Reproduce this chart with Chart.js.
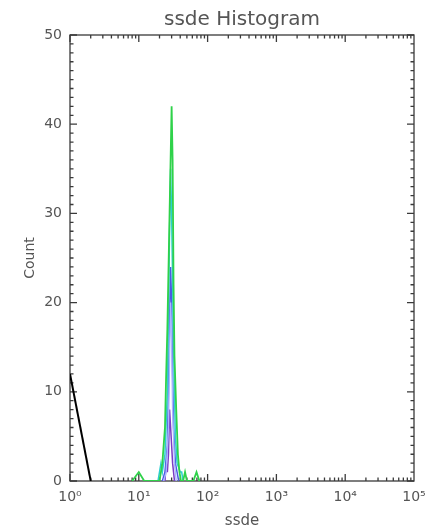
<!DOCTYPE html>
<html>
<head>
<meta charset="utf-8">
<script src="https://cdn.jsdelivr.net/npm/chart.js@4/dist/chart.umd.min.js"></script>
<style>
  html, body { margin: 0; padding: 0; background: #ffffff; }
  #wrap { width: 437px; height: 530px; position: relative; }
</style>
</head>
<body>
<div id="wrap"><canvas id="c"></canvas></div>
<script>
// ---- data ----
const titleText = 'ssde Histogram';
const xTitle = 'ssde';
const yTitle = 'Count';
const xTickValues = [1, 10, 100, 1000, 10000, 100000];
const yTickValues = [0, 10, 20, 30, 40, 50];

const blackX = [1, 2];
const blackY = [12, 0];

const greenX = [8, 10, 12, 20, 22, 24, 25, 26, 28, 30, 31, 32, 33, 35, 37, 39, 41, 44, 47, 50, 62, 69, 76];
const greenY = [0, 1, 0, 0, 2, 6, 12, 17, 30, 42, 36, 22, 14, 8, 3, 1, 0, 0, 1, 0, 0, 1, 0];

const cyanX = [19, 21, 22, 24, 26, 28, 29, 30, 32, 34, 36, 40, 42, 44];
const cyanY = [0, 2, 1, 3, 10, 28, 35, 30, 15, 5, 2, 1, 1, 0];

const lavenderX = [23, 25, 27, 28, 29, 30, 31, 33, 35];
const lavenderY = [0, 1, 6, 14, 20, 16, 8, 2, 0];

const blueX = [22, 24, 26, 27, 28, 29, 30, 31, 32, 34, 36, 38];
const blueY = [0, 1, 4, 10, 18, 24, 20, 12, 6, 2, 1, 0];

const purpleX = [24, 25, 26, 27, 28, 29, 30, 31, 32, 33];
const purpleY = [0, 2, 1, 3, 8, 6, 4, 2, 1, 0];

const seriesColors = {
  black: '#000000',
  green: '#2fd24a',
  cyan: '#2ccfd0',
  lavender: '#a9b6ff',
  blue: '#4b5ae2',
  purple: '#7a3cc4'
};

function pts(xs, ys) { return xs.map((x, i) => ({ x: x, y: ys[i] })); }

function ds(label, xs, ys, color, w) {
  return {
    label: label,
    data: pts(xs, ys),
    borderColor: color,
    backgroundColor: color,
    borderWidth: w,
    pointRadius: 0,
    tension: 0,
    fill: false
  };
}

const sup = ['\u2070', '\u00B9', '\u00B2', '\u00B3', '\u2074', '\u2075'];
const textColor = '#555555';
const frameColor = '#3a3a3a';

const framePlugin = {
  id: 'frame',
  beforeDatasetsDraw(chart) {
    const { ctx, chartArea: a, scales } = chart;
    const xs = scales.x, ys = scales.y;
    ctx.save();
    ctx.strokeStyle = frameColor;
    ctx.lineWidth = 1.3;
    ctx.strokeRect(a.left, a.top, a.right - a.left, a.bottom - a.top);
    ctx.beginPath();
    // x ticks (log, minor 2..9)
    for (let d = 0; d < 5; d++) {
      for (let m = 1; m <= 9; m++) {
        const v = m * Math.pow(10, d);
        const px = xs.getPixelForValue(v);
        const len = m === 1 ? 7 : 3.5;
        ctx.moveTo(px, a.bottom); ctx.lineTo(px, a.bottom - len);
        ctx.moveTo(px, a.top); ctx.lineTo(px, a.top + len);
      }
    }
    // y ticks
    for (let v = 0; v <= 50; v += 1) {
      const py = ys.getPixelForValue(v);
      const len = v % 10 === 0 ? 7 : 3.5;
      ctx.moveTo(a.left, py); ctx.lineTo(a.left + len, py);
      ctx.moveTo(a.right, py); ctx.lineTo(a.right - len, py);
    }
    ctx.stroke();
    ctx.restore();
  }
};

new Chart(document.getElementById('c'), {
  type: 'line',
  data: {
    datasets: [
      ds('black', blackX, blackY, seriesColors.black, 2),
      ds('green', greenX, greenY, seriesColors.green, 1.8),
      ds('cyan', cyanX, cyanY, seriesColors.cyan, 1.5),
      ds('lavender', lavenderX, lavenderY, seriesColors.lavender, 1.4),
      ds('blue', blueX, blueY, seriesColors.blue, 1.5),
      ds('purple', purpleX, purpleY, seriesColors.purple, 1.5)
    ]
  },
  options: {
    responsive: true,
    maintainAspectRatio: false,
    animation: false,
    devicePixelRatio: 1,
    layout: { padding: { top: 0, right: 23, bottom: 0, left: 0 } },
    plugins: {
      legend: { display: false },
      tooltip: { enabled: false },
      title: {
        display: true,
        text: titleText,
        fullSize: false,
        color: textColor,
        font: { family: 'DejaVu Sans', size: 20, weight: 'normal' },
        padding: { top: 8, bottom: 3 }
      }
    },
    scales: {
      x: {
        type: 'logarithmic',
        min: 1,
        max: 100000,
        afterFit(scale) { scale.height = 49; },
        afterBuildTicks(scale) { scale.ticks = xTickValues.map(v => ({ value: v })); },
        grid: { display: false, drawTicks: false },
        border: { display: false },
        ticks: {
          autoSkip: false,
          maxRotation: 0,
          padding: 8,
          color: textColor,
          font: { family: 'DejaVu Sans', size: 14 },
          callback: (v) => '10' + sup[Math.round(Math.log10(v))]
        },
        title: {
          display: true,
          text: xTitle,
          color: textColor,
          font: { family: 'DejaVu Sans', size: 15 },
          padding: { top: 0, bottom: 0 }
        }
      },
      y: {
        type: 'linear',
        min: 0,
        max: 50,
        afterFit(scale) { scale.width = 70; },
        afterBuildTicks(scale) { scale.ticks = yTickValues.map(v => ({ value: v })); },
        grid: { display: false, drawTicks: false },
        border: { display: false },
        ticks: {
          padding: 8,
          color: textColor,
          font: { family: 'DejaVu Sans', size: 14 }
        },
        title: {
          display: true,
          text: yTitle,
          color: textColor,
          font: { family: 'DejaVu Sans', size: 14 },
          padding: { top: 22, bottom: 0 }
        }
      }
    }
  },
  plugins: [framePlugin]
});
</script>
</body>
</html>
